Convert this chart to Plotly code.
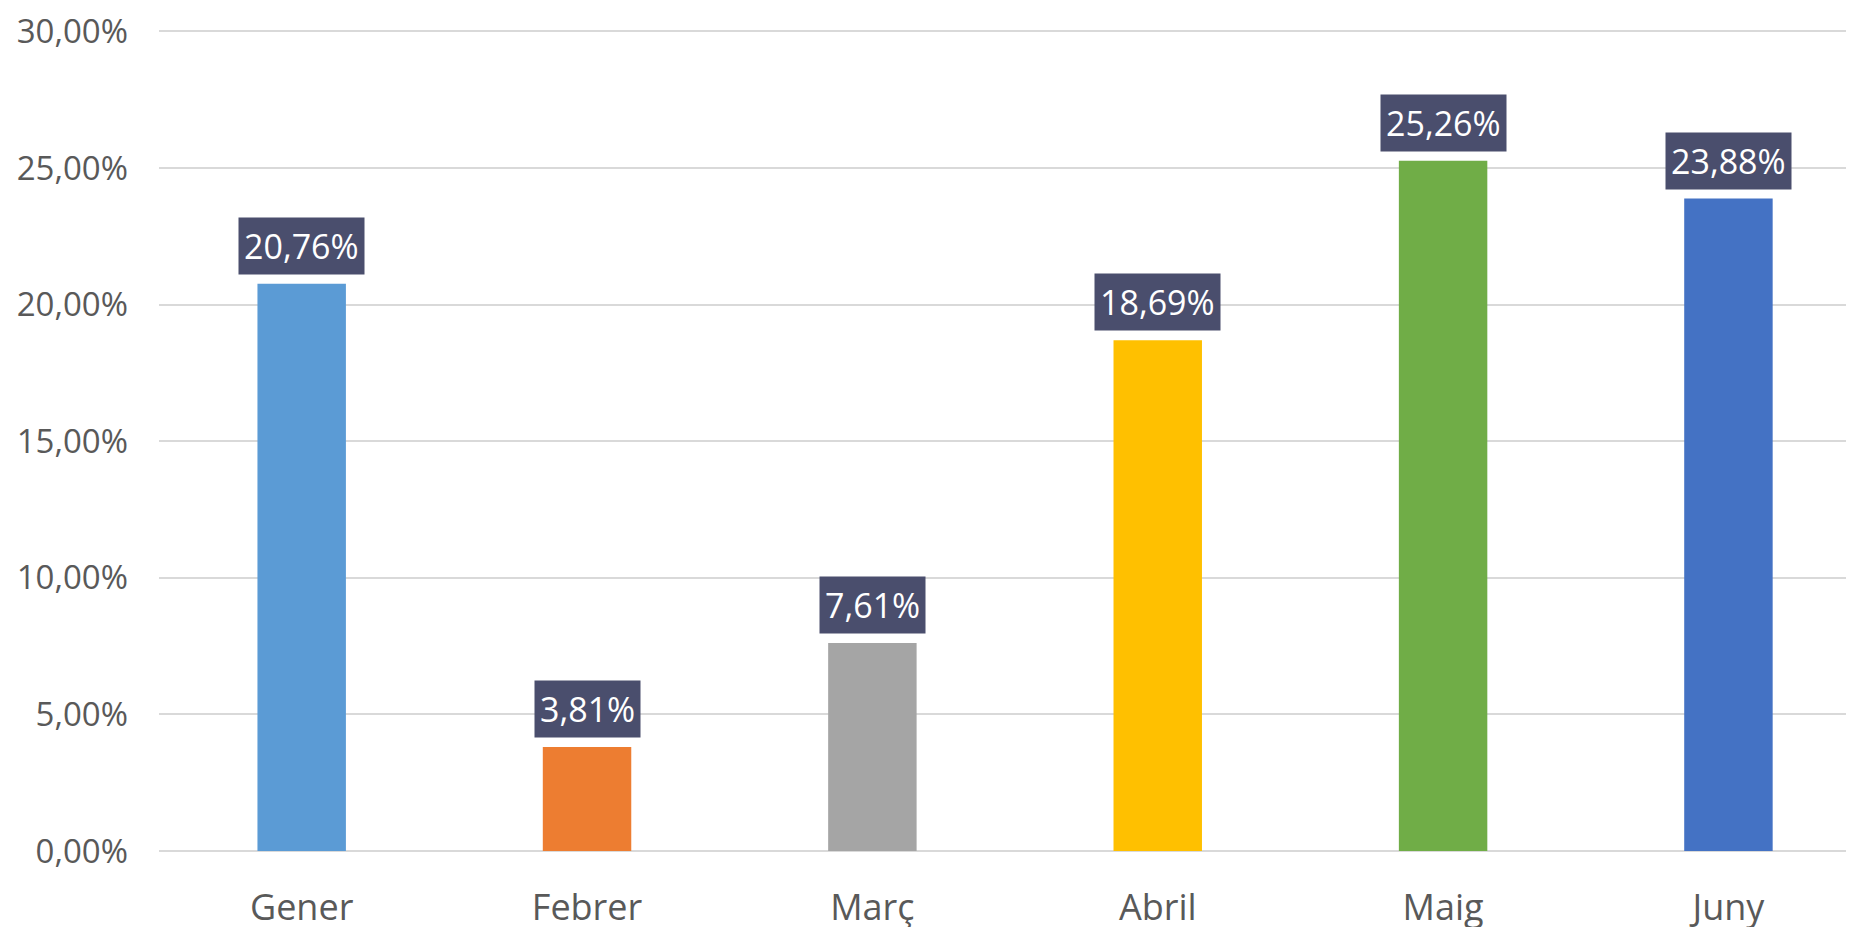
import plotly.graph_objects as go

months = ["Gener", "Febrer", "Març", "Abril", "Maig", "Juny"]
values = [20.76, 3.81, 7.61, 18.69, 25.26, 23.88]
bar_colors = ["#5B9BD5", "#ED7D31", "#A5A5A5", "#FFC000", "#70AD47", "#4472C4"]
y_ticks = [0, 5, 10, 15, 20, 25, 30]
y_tick_labels = ["0,00%", "5,00%", "10,00%", "15,00%", "20,00%", "25,00%", "30,00%"]

LABEL_BG = "#4A4E6D"
TEXT_GREY = "#595959"
GRID = "#D9D9D9"
FONT = "Open Sans, Lato, sans-serif"

fig = go.Figure(
    go.Bar(
        x=months,
        y=values,
        marker_color=bar_colors,
        marker_line_width=0,
        hovertemplate="%{x}: %{y:.2f}%<extra></extra>",
    )
)

# Excel-style data labels: white text in a dark box just above each bar
for m, v in zip(months, values):
    fig.add_annotation(
        x=m, y=v,
        text=f"{v:.2f}%".replace(".", ","),
        showarrow=False,
        yanchor="bottom",
        yshift=9,
        bgcolor=LABEL_BG,
        borderpad=5,
        font=dict(family=FONT, size=34, color="white"),
    )

# the page body adds ~8px of margin, so margins are trimmed to compensate;
# the right edge of the plot runs off the page like the original crop
fig.update_xaxes(
    type="category",
    range=[-0.5, 5.44],
    showgrid=False,
    showline=False,
    ticks="",
    automargin=False,
    ticklabeloverflow="allow",
    ticklabelstandoff=32,
    tickfont=dict(family=FONT, size=36, color=TEXT_GREY),
)
fig.update_yaxes(
    range=[0, 30.05],
    tickvals=y_ticks,
    ticktext=y_tick_labels,
    showgrid=True,
    gridcolor=GRID,
    gridwidth=2,
    zeroline=True,
    zerolinecolor=GRID,
    zerolinewidth=2,
    ticks="",
    automargin=False,
    ticklabeloverflow="allow",
    ticklabelstandoff=30,
    tickfont=dict(family=FONT, size=33, color=TEXT_GREY),
)
fig.update_layout(
    width=1854,
    height=927,
    margin=dict(l=151, r=8, t=22, b=84),
    plot_bgcolor="white",
    paper_bgcolor="white",
    bargap=0.69,
    showlegend=False,
)

fig.write_html("out.html")
